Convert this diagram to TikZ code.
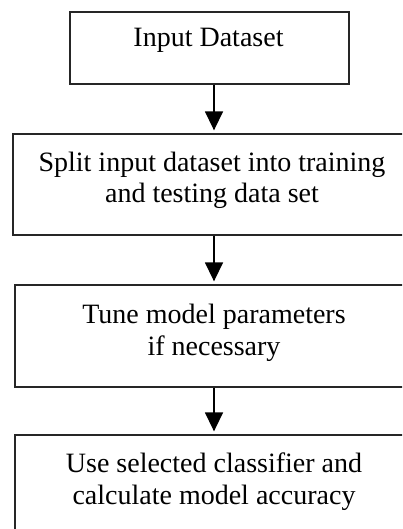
\documentclass[tikz,border=0pt]{standalone}
\usepackage{fontspec}
\setmainfont{Liberation Serif}
\usetikzlibrary{arrows.meta}
\begin{document}
\begin{tikzpicture}[x=1pt,y=-1pt,
  boxst/.style={draw=black!85, line width=1.3pt, rectangle, inner sep=0pt},
  txt/.style={font=\fontsize{28}{32}\selectfont, align=center, inner sep=0pt},
  flow/.style={draw=black, line width=1.5pt, -{Triangle[width=18pt,length=19pt]}, shorten >=3pt}]
\useasboundingbox (0,0) rectangle (402,529);
\clip (0,0) rectangle (402,529);
\node[boxst, minimum width=279pt, minimum height=72pt] (b1) at (209.5,48) {};
\node[boxst, minimum width=402pt, minimum height=101pt] (b2) at (214,184.5) {};
\node[boxst, minimum width=400pt, minimum height=102pt] (b3) at (215,336) {};
\node[boxst, minimum width=400pt, minimum height=120pt] (b4) at (215,495) {};
\node[txt, anchor=base] (t1) at (208.5,46.7) {Input Dataset};
\node[txt, anchor=base] (t2) at (212,203) {Split input dataset into training\\and testing data set};
\node[txt, anchor=base] (t3) at (214,355) {Tune model parameters\\if necessary};
\node[txt, anchor=base] (t4) at (214,504) {Use selected classifier and\\calculate model accuracy};
\draw[flow] (b1.south -| 214,0) -- (b2.north -| 214,0);
\draw[flow] (b2.south -| 214,0) -- (b3.north -| 214,0);
\draw[flow] (b3.south -| 214,0) -- (b4.north -| 214,0);
\end{tikzpicture}
\end{document}
